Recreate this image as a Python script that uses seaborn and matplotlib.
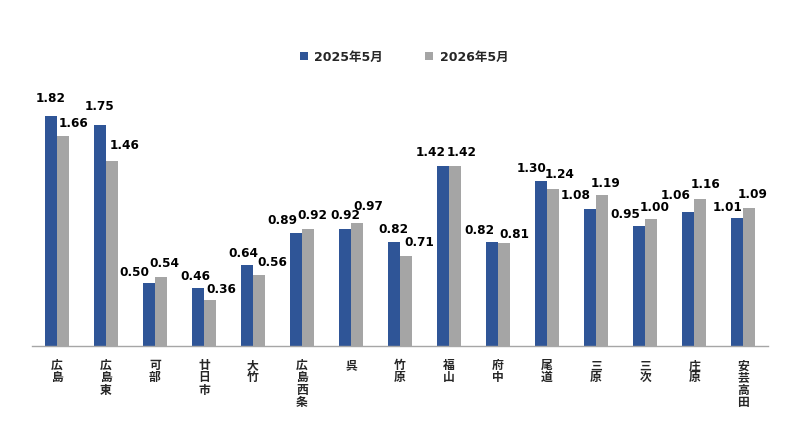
import pandas as pd
import matplotlib.pyplot as plt
import seaborn as sns

# data
stations = ['広島', '広島東', '可部', '廿日市', '大竹', '広島西条', '呉', '竹原',
            '福山', '府中', '尾道', '三原', '三次', '庄原', '安芸高田']
ratio_2025 = [1.82, 1.75, 0.50, 0.46, 0.64, 0.89, 0.92, 0.82,
              1.42, 0.82, 1.30, 1.08, 0.95, 1.06, 1.01]
ratio_2026 = [1.66, 1.46, 0.54, 0.36, 0.56, 0.92, 0.97, 0.71,
              1.42, 0.81, 1.24, 1.19, 1.00, 1.16, 1.09]
series = ['2025年5月', '2026年5月']

# label nudges (pixels) so the numbers sit like the original
dx_2025 = [0, 0, -14, -3, -4, -14, 0, -1, -12, -13, -9, -14, -14, -13, -10]
dx_2026 = [11, 13, 3, 11, 13, 4, 11, 13, 7, 10, 7, 3, 4, 5, 3]
dy_2025 = [18, 19, 11, 12, 12, 14, 15, 14, 15, 13, 14, 15, 12, 17, 12]
dy_2026 = [13, 17, 15, 12, 13, 15, 18, 14, 15, 10, 15, 13, 13, 16, 14]

df = pd.DataFrame({
    'station': stations * 2,
    'value': ratio_2025 + ratio_2026,
    'month': [series[0]] * len(stations) + [series[1]] * len(stations),
})

sns.set_theme(style="white")
plt.rcParams['font.family'] = ['DejaVu Sans', 'Noto Sans CJK JP']

fig = plt.figure(figsize=(8, 4.35), dpi=100)
ax = fig.add_axes([0.0404, 0.203, 0.9192, 0.581])

palette = {series[0]: '#2F5597', series[1]: '#A5A5A5'}
sns.barplot(data=df, x='station', y='value', hue='month', palette=palette,
            order=stations, hue_order=series, width=0.49, gap=0,
            saturation=1, linewidth=0, edgecolor='none', ax=ax, legend=True)

ax.set_ylim(0, 2.0)
ax.set_xlim(-0.5, len(stations) - 0.5)
ax.set_xlabel('')
ax.set_ylabel('')
ax.set_yticks([])
for s in ['top', 'right', 'left']:
    ax.spines[s].set_visible(False)
ax.spines['bottom'].set_color('#A6A6A6')
ax.spines['bottom'].set_linewidth(1.0)

# station names stacked vertically, one character per line
ax.set_xticks(range(len(stations)))
ax.set_xticklabels(['\n'.join(name) for name in stations], fontsize=8.5,
                   fontweight='bold', linespacing=0.92, va='top',
                   family=['Noto Sans CJK JP'])
ax.tick_params(axis='x', length=0, pad=9)

# value labels
px = 72 / fig.dpi
for container, vals, dxs, dys in zip(ax.containers, [ratio_2025, ratio_2026],
                                     [dx_2025, dx_2026], [dy_2025, dy_2026]):
    for bar, v, dx, dy in zip(container, vals, dxs, dys):
        ax.annotate(f'{v:.2f}', (bar.get_x() + bar.get_width() / 2, bar.get_height()),
                    xytext=(dx * px, dy * px), textcoords='offset points',
                    ha='center', va='center', fontsize=8.7, fontweight='bold',
                    color='black')

handles, labels = ax.get_legend_handles_labels()
ax.get_legend().remove()
fig.legend(handles, labels, loc='center', bbox_to_anchor=(0.505, 0.867), ncol=2,
           frameon=False, handlelength=0.65, handleheight=0.65, handletextpad=0.5,
           columnspacing=3.4, prop={'weight': 'bold', 'size': 9,
                                    'family': ['DejaVu Sans', 'Noto Sans CJK JP']})

fig.savefig('out.png', dpi=100)
